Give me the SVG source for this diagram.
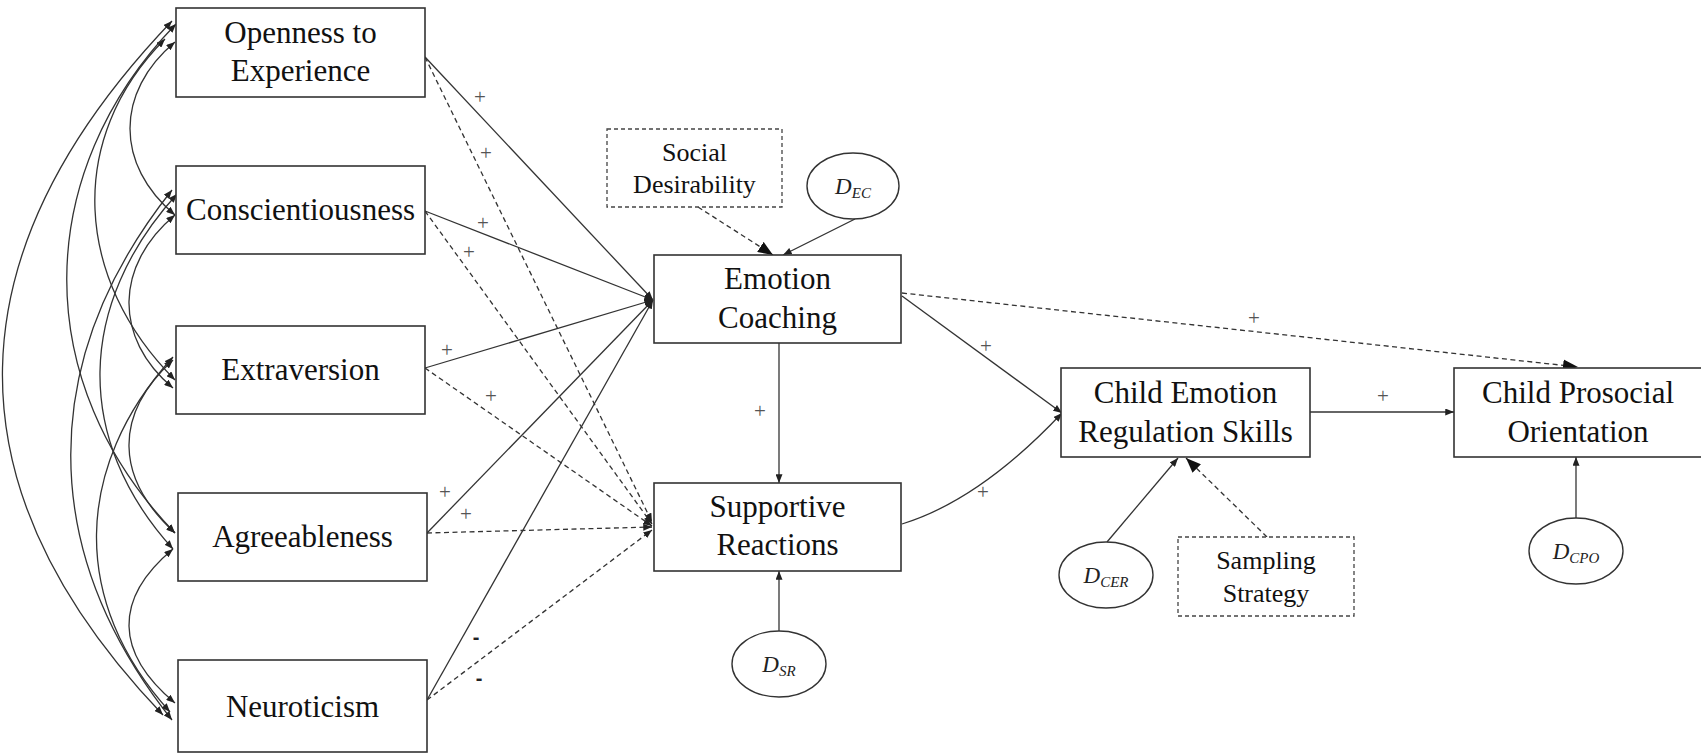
<svg xmlns="http://www.w3.org/2000/svg" width="1701" height="754" viewBox="0 0 1701 754">
  <defs>
    <style>
      .box { fill: #fff; stroke: #333; stroke-width: 1.6; }
      .dbox { fill: #fff; stroke: #444; stroke-width: 1.3; stroke-dasharray: 4 3; }
      .ell { fill: #fff; stroke: #333; stroke-width: 1.4; }
      .lbl { font-family: "Liberation Serif", "Times New Roman", serif; font-size: 31px; fill: #111; text-anchor: middle; }
      .small { font-size: 26px; }
      .dvar { font-family: "Liberation Serif", "Times New Roman", serif; font-style: italic; font-size: 23px; fill: #222; text-anchor: middle; }
      .c { fill: none; stroke: #333; stroke-width: 1.3; }
      .d { stroke-dasharray: 5 3.5; }
      .sign { font-family: "Liberation Serif", "Times New Roman", serif; font-size: 21px; fill: #555; text-anchor: middle; }
      .neg { font-family: "Liberation Sans", Arial, sans-serif; font-size: 20px; font-weight: bold; fill: #222; text-anchor: middle; }
    </style>
    <marker id="ah" viewBox="0 0 10 8" refX="10" refY="4" markerWidth="9" markerHeight="7" markerUnits="userSpaceOnUse" orient="auto-start-reverse">
      <path d="M0,0 L10,4 L0,8 z" fill="#222"/>
    </marker>
    <marker id="ahL" viewBox="0 0 10 8" refX="10" refY="4" markerWidth="15" markerHeight="12" markerUnits="userSpaceOnUse" orient="auto">
      <path d="M0,0 L10,4 L0,8 z" fill="#111"/>
    </marker>
  </defs>

  <rect width="1701" height="754" fill="#fff"/>

  <!-- connectors -->
  <g id="connectors">
    <!-- covariances among the five traits -->
    <g id="covariances" class="c" marker-start="url(#ah)" marker-end="url(#ah)">
      <path d="M175,42 C115,92 115,165 175,215"/>
      <path d="M165,39 C65,139 75,280 175,380"/>
      <path d="M176,24 C31,174 30,383 175,533"/>
      <path d="M172,21 C-48,251 -57,485 163,715"/>
      <path d="M175,215 C115,265 113,338 173,388"/>
      <path d="M177,194 C77,304 73,439 173,549"/>
      <path d="M172,190 C37,360 37,550 172,720"/>
      <path d="M173,360 C113,415 115,478 175,533"/>
      <path d="M173,357 C73,467 70,602 170,712"/>
      <path d="M173,549 C113,599 115,653 175,703"/>
    </g>

    <!-- traits to emotion coaching (solid) -->
    <g class="c" marker-end="url(#ah)">
      <line x1="425" y1="57" x2="653" y2="300"/>
      <line x1="425" y1="211" x2="653" y2="300"/>
      <line x1="425" y1="368" x2="653" y2="300"/>
      <line x1="427" y1="533" x2="653" y2="300"/>
      <line x1="427" y1="700" x2="653" y2="300"/>
    </g>

    <!-- traits to supportive reactions (dashed) -->
    <g class="c d" marker-end="url(#ah)">
      <line x1="425" y1="57" x2="652" y2="522"/>
      <line x1="425" y1="211" x2="652" y2="524"/>
      <line x1="425" y1="368" x2="652" y2="526"/>
      <line x1="427" y1="533" x2="652" y2="527"/>
      <line x1="427" y1="700" x2="652" y2="530"/>
    </g>

    <!-- paths among outcomes -->
    <g class="c" marker-end="url(#ah)">
      <line x1="779" y1="343" x2="779" y2="483"/>
      <line x1="779" y1="631" x2="779" y2="571"/>
      <line x1="855" y1="219" x2="783" y2="255"/>
      <line x1="902" y1="296" x2="1062" y2="413"/>
      <path d="M902,524 Q980,500 1062,413"/>
      <line x1="1310" y1="412" x2="1454" y2="412"/>
      <line x1="1107" y1="542" x2="1178" y2="458"/>
      <line x1="1576" y1="518" x2="1576" y2="457"/>
    </g>
    <g class="c d" marker-end="url(#ahL)">
      <line x1="698" y1="207" x2="773" y2="255"/>
      <line x1="902" y1="293" x2="1578" y2="367"/>
      <line x1="1267" y1="537" x2="1186" y2="458"/>
    </g>

    <!-- path signs -->
    <g id="signs">
      <text class="sign" x="480" y="104">+</text>
      <text class="sign" x="486" y="160">+</text>
      <text class="sign" x="483" y="230">+</text>
      <text class="sign" x="469" y="259">+</text>
      <text class="sign" x="447" y="357">+</text>
      <text class="sign" x="491" y="403">+</text>
      <text class="sign" x="445" y="499">+</text>
      <text class="sign" x="466" y="521">+</text>
      <text class="neg" x="476" y="644">-</text>
      <text class="neg" x="479" y="685">-</text>
      <text class="sign" x="760" y="418">+</text>
      <text class="sign" x="986" y="353">+</text>
      <text class="sign" x="983" y="499">+</text>
      <text class="sign" x="1254" y="325">+</text>
      <text class="sign" x="1383" y="403">+</text>
    </g>
  </g>

  <!-- personality traits -->
  <g id="openness">
    <rect class="box" x="176" y="8" width="249" height="89"/>
    <text class="lbl" x="300.5" y="43">Openness to</text>
    <text class="lbl" x="300.5" y="81">Experience</text>
  </g>
  <g id="conscientiousness">
    <rect class="box" x="176" y="166" width="249" height="88"/>
    <text class="lbl" x="300.5" y="220">Conscientiousness</text>
  </g>
  <g id="extraversion">
    <rect class="box" x="176" y="326" width="249" height="88"/>
    <text class="lbl" x="300.5" y="380">Extraversion</text>
  </g>
  <g id="agreeableness">
    <rect class="box" x="178" y="493" width="249" height="88"/>
    <text class="lbl" x="302.5" y="547">Agreeableness</text>
  </g>
  <g id="neuroticism">
    <rect class="box" x="178" y="660" width="249" height="92"/>
    <text class="lbl" x="302.5" y="717">Neuroticism</text>
  </g>

  <!-- parenting -->
  <g id="social-desirability">
    <rect class="dbox" x="607" y="129" width="175" height="78"/>
    <text class="lbl small" x="694.5" y="161">Social</text>
    <text class="lbl small" x="694.5" y="193">Desirability</text>
  </g>
  <g id="d-ec">
    <ellipse class="ell" cx="853" cy="186" rx="46" ry="33"/>
    <text class="dvar" x="853" y="194">D<tspan font-size="15" dy="4">EC</tspan></text>
  </g>
  <g id="emotion-coaching">
    <rect class="box" x="654" y="255" width="247" height="88"/>
    <text class="lbl" x="777.5" y="289">Emotion</text>
    <text class="lbl" x="777.5" y="328">Coaching</text>
  </g>
  <g id="supportive-reactions">
    <rect class="box" x="654" y="483" width="247" height="88"/>
    <text class="lbl" x="777.5" y="517">Supportive</text>
    <text class="lbl" x="777.5" y="555">Reactions</text>
  </g>
  <g id="d-sr">
    <ellipse class="ell" cx="779" cy="664" rx="47" ry="33"/>
    <text class="dvar" x="779" y="672">D<tspan font-size="15" dy="4">SR</tspan></text>
  </g>

  <!-- child outcomes -->
  <g id="child-emotion-regulation">
    <rect class="box" x="1061" y="368" width="249" height="89"/>
    <text class="lbl" x="1185.5" y="403">Child Emotion</text>
    <text class="lbl" x="1185.5" y="442">Regulation Skills</text>
  </g>
  <g id="d-cer">
    <ellipse class="ell" cx="1106" cy="575" rx="47" ry="33"/>
    <text class="dvar" x="1106" y="583">D<tspan font-size="15" dy="4">CER</tspan></text>
  </g>
  <g id="sampling-strategy">
    <rect class="dbox" x="1178" y="537" width="176" height="79"/>
    <text class="lbl small" x="1266" y="569">Sampling</text>
    <text class="lbl small" x="1266" y="602">Strategy</text>
  </g>
  <g id="child-prosocial">
    <rect class="box" x="1454" y="368" width="248" height="89"/>
    <text class="lbl" x="1578" y="403">Child Prosocial</text>
    <text class="lbl" x="1578" y="442">Orientation</text>
  </g>
  <g id="d-cpo">
    <ellipse class="ell" cx="1576" cy="551" rx="47" ry="33"/>
    <text class="dvar" x="1576" y="559">D<tspan font-size="15" dy="4">CPO</tspan></text>
  </g>
</svg>
